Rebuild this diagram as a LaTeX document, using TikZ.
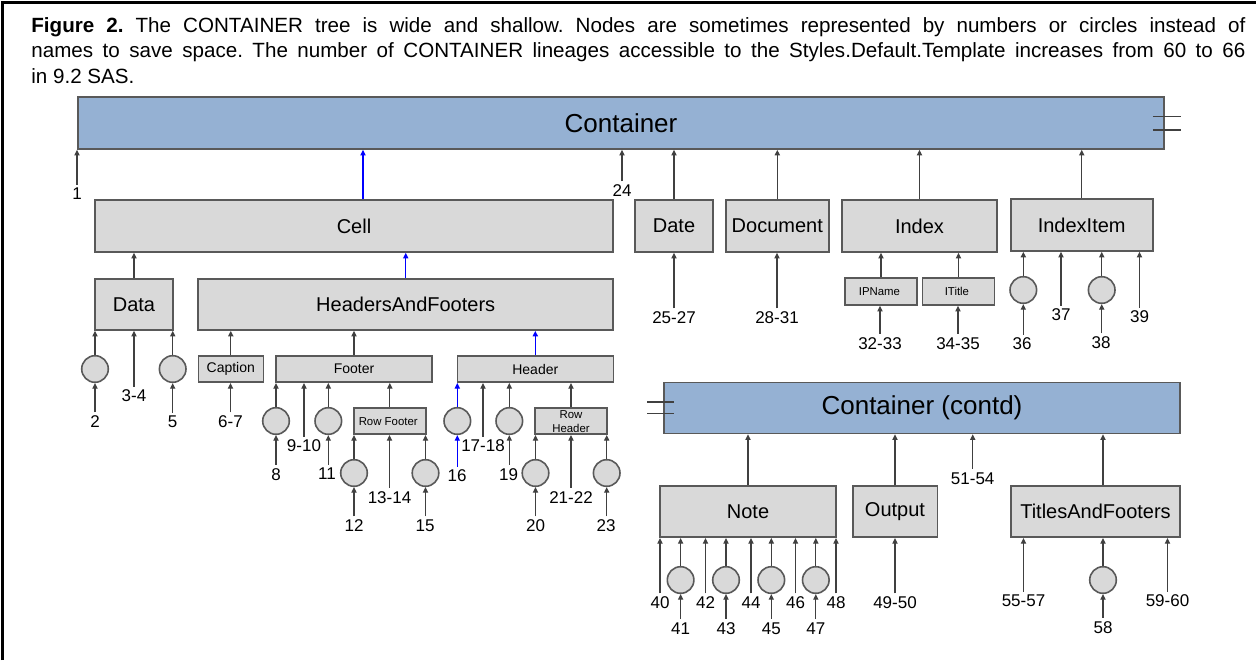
\documentclass[tikz,border=0pt]{standalone}
\usepackage{fontspec}
\setmainfont{Liberation Sans}
\usetikzlibrary{arrows.meta}

\definecolor{boxfill}{HTML}{D9D9D9}
\definecolor{boxline}{HTML}{595959}
\definecolor{contfill}{HTML}{95B1D3}
\definecolor{wirecol}{HTML}{404040}

\begin{document}
\frenchspacing
\begin{tikzpicture}[x=0.5pt, y=-0.5pt,
    box/.style={draw=boxline, fill=boxfill, line width=0.8pt, inner sep=0pt,
      font=\fontsize{10}{12}\selectfont},
    contbox/.style={box, fill=contfill, font=\fontsize{13}{15}\selectfont},
    smallbox/.style={box, font=\fontsize{7}{8}\selectfont},
    tinybox/.style={box, align=center, font=\fontsize{5.7}{7}\selectfont},
    leaf/.style={circle, draw=boxline, fill=boxfill, line width=0.8pt,
      inner sep=0pt, minimum size=13.3pt},
    num/.style={inner sep=1.5pt, font=\fontsize{8.5}{10}\selectfont},
    wire/.style={draw=wirecol, line width=0.6pt, -{Triangle[length=2.8pt, width=2.6pt]}},
    bluewire/.style={wire, draw=blue},
    brk/.style={draw=wirecol, line width=0.8pt}]

  \useasboundingbox (0, 0) rectangle (1256, 660);
  \draw[line width=1.5pt] (2.5, 660) -- (2.5, 2.5) -- (1256, 2.5);

  \node[anchor=north west, inner sep=0pt, text width=607pt, align=justify,
    font=\fontsize{10.3}{12.75}\selectfont] (title) at (31, 17){
    \textbf{Figure 2.} The CONTAINER tree is wide and shallow. Nodes are
    sometimes represented by numbers or circles instead of\linebreak names to
    save space. The number of CONTAINER lineages accessible to the
    Styles.Default.Template increases from 60 to 66\linebreak in 9.2 SAS.
  };

  %% first level
  \node[contbox, minimum width=543pt, minimum height=26pt] (cont) at (621, 123){
    Container
  };

  \node[box, minimum width=259pt, minimum height=26pt] (cell) at (354, 226){
    Cell
  };

  \node[box, minimum width=39pt, minimum height=26pt] (date) at (674, 226){
    Date
  };

  \node[box, minimum width=51.5pt, minimum height=26pt] (doc) at (777.3, 226){
    Document
  };

  \node[box, minimum width=77.5pt, minimum height=26pt] (index) at (919.5, 226){
    Index
  };

  \node[box, minimum width=71pt, minimum height=26pt] (item) at (1081.7, 225){
    IndexItem
  };

  \node[num] (l1) at (77, 194){1};
  \node[num] (l24) at (622, 190.6){24};

  %% second level
  \node[box, minimum width=39pt, minimum height=25.5pt] (data) at (134, 304.5){
    Data
  };

  \node[box, minimum width=207.5pt, minimum height=25.5pt] (haf) at (405.7, 304.5){
    HeadersAndFooters
  };

  \node[tinybox, minimum width=36pt, minimum height=13.5pt] (ipname) at (881, 291.5){
    IPName
  };

  \node[tinybox, minimum width=36pt, minimum height=13.5pt] (ititle) at (958.5, 291.5){
    ITitle
  };

  \node[leaf] (c36) at (1023.3, 290){};
  \node[leaf] (c38) at (1101.7, 290){};

  \node[num] (l2527) at (674, 317.7){25-27};
  \node[num] (l2831) at (777, 317.7){28-31};
  \node[num] (l3233) at (880, 343.3){32-33};
  \node[num] (l3435) at (958, 343.3){34-35};
  \node[num] (l36) at (1022, 344){36};
  \node[num] (l37) at (1061, 315){37};
  \node[num] (l38) at (1101, 342.7){38};
  \node[num] (l39) at (1139.5, 317){39};

  %% third level
  \node[leaf] (c2) at (95, 369){};
  \node[leaf] (c5) at (172.7, 369){};

  \node[smallbox, minimum width=32.5pt, minimum height=13pt] (caption) at (230.8, 369.2){
    Caption
  };

  \node[smallbox, minimum width=78pt, minimum height=13pt] (footer) at (354, 369.2){
    Footer
  };

  \node[smallbox, minimum width=78pt, minimum height=13pt] (header) at (535.3, 369.2){
    Header
  };

  \node[num] (l2) at (95, 421.7){2};
  \node[num] (l34) at (134, 396){3-4};
  \node[num] (l5) at (172.5, 422){5};
  \node[num] (l67) at (230.5, 421.7){6-7};

  %% fourth level
  \node[leaf] (c8) at (276, 421){};
  \node[leaf] (c11) at (328.3, 421){};

  \node[tinybox, minimum width=36pt, minimum height=13pt] (rowf) at (389.8, 421.2){
    Row Footer
  };

  \node[leaf] (c16) at (457.3, 421){};
  \node[leaf] (c19) at (509.3, 421){};

  \node[tinybox, minimum width=36pt, minimum height=13pt] (rowh) at (571, 421.2){
    Row\\Header
  };

  \node[num] (l8) at (276, 474.3){8};
  \node[num] (l910) at (304, 446){9-10};
  \node[num] (l11) at (327, 474){11};
  \node[num] (l16) at (457, 476){16};
  \node[num] (l1718) at (483, 446){17-18};
  \node[num] (l19) at (508.5, 474.3){19};

  %% fifth level
  \node[leaf] (c12) at (354, 473){};
  \node[leaf] (c15) at (425.5, 473){};
  \node[leaf] (c20) at (535.5, 473){};
  \node[leaf] (c23) at (606.7, 473){};

  \node[num] (l12) at (354, 525.7){12};
  \node[num] (l1314) at (389.5, 497.3){13-14};
  \node[num] (l15) at (425, 525.7){15};
  \node[num] (l20) at (535.5, 525.7){20};
  \node[num] (l2122) at (571, 497.3){21-22};
  \node[num] (l23) at (606, 525.7){23};

  %% continued part
  \node[contbox, minimum width=258pt, minimum height=25.5pt] (contd) at (922, 408){
    Container (contd)
  };

  \node[box, minimum width=88pt, minimum height=25.5pt] (note) at (748, 511.7){
    Note
  };

  \node[box, minimum width=42.3pt, minimum height=25.5pt] (output) at (895, 511.7){
    Output
  };

  \node[box, minimum width=84.5pt, minimum height=25.5pt] (taf) at (1095.5, 511.7){
    TitlesAndFooters
  };

  \node[num] (l5154) at (972.7, 478.3){51-54};

  \node[leaf] (c41) at (680.6, 580){};
  \node[leaf] (c43) at (726, 580){};
  \node[leaf] (c45) at (771.3, 580){};
  \node[leaf] (c47) at (815.8, 580){};
  \node[leaf] (c58) at (1103, 580){};

  \node[num] (l40) at (660, 602.7){40};
  \node[num] (l42) at (705.5, 602.7){42};
  \node[num] (l44) at (751, 602.7){44};
  \node[num] (l46) at (795.5, 602.7){46};
  \node[num] (l48) at (836, 602.7){48};
  \node[num] (l41) at (680.6, 628.3){41};
  \node[num] (l43) at (726, 628.3){43};
  \node[num] (l45) at (771.3, 628.3){45};
  \node[num] (l47) at (815.8, 628.3){47};
  \node[num] (l4950) at (895, 602.7){49-50};
  \node[num] (l5557) at (1023.5, 601){55-57};
  \node[num] (l58) at (1103, 627.3){58};
  \node[num] (l5960) at (1167.5, 601){59-60};

  %% break marks
  \draw[brk] ([shift={(-12, -6.5)}]cont.east) -- ([shift={(16, -6.5)}]cont.east);
  \draw[brk] ([shift={(-12, 7)}]cont.east) -- ([shift={(16, 7)}]cont.east);
  \draw[brk] ([shift={(-16, -6.3)}]contd.west) -- ([shift={(11, -6.3)}]contd.west);
  \draw[brk] ([shift={(-16, 5.3)}]contd.west) -- ([shift={(11, 5.3)}]contd.west);

  %% into Container
  \draw[wire] (l1.north) -- (l1.north |- cont.south);
  \draw[bluewire] ([shift={(9, 0)}]cell.north) -- ([shift={(9, 0)}]cell.north |- cont.south);
  \draw[wire] (l24.north) -- (l24.north |- cont.south);
  \draw[wire] (date.north) -- (date.north |- cont.south);
  \draw[wire] (doc.north) -- (doc.north |- cont.south);
  \draw[wire] (index.north) -- (index.north |- cont.south);
  \draw[wire] (item.north) -- (item.north |- cont.south);

  \draw[wire] (data.north) -- (data.north |- cell.south);
  \draw[bluewire] (haf.north) -- (haf.north |- cell.south);

  \draw[wire] (l2527.north) -- (l2527.north |- date.south);
  \draw[wire] (l2831.north) -- (l2831.north |- doc.south);

  \draw[wire] (ipname.north) -- (ipname.north |- index.south);
  \draw[wire] (ititle.north) -- (ititle.north |- index.south);
  \draw[wire] (l3233.north) -- (l3233.north |- ipname.south);
  \draw[wire] (l3435.north) -- (l3435.north |- ititle.south);

  \draw[wire] (c36.north) -- (c36.north |- item.south);
  \draw[wire] (l37.north) -- (l37.north |- item.south);
  \draw[wire] (c38.north) -- (c38.north |- item.south);
  \draw[wire] (l39.north) -- (l39.north |- item.south);
  \draw[wire] (c36.south |- l36.north) -- (c36.south);
  \draw[wire] (c38.south |- l38.north) -- (c38.south);

  %% Data
  \draw[wire] (c2.north) -- (c2.north |- data.south);
  \draw[wire] (l34.north) -- (l34.north |- data.south);
  \draw[wire] (c5.north) -- (c5.north |- data.south);
  \draw[wire] (c2.south |- l2.north) -- (c2.south);
  \draw[wire] (c5.south |- l5.north) -- (c5.south);

  %% HeadersAndFooters
  \draw[wire] (caption.north) -- (caption.north |- haf.south);
  \draw[wire] (footer.north) -- (footer.north |- haf.south);
  \draw[bluewire] (header.north) -- (header.north |- haf.south);
  \draw[wire] (l67.north) -- (l67.north |- caption.south);

  %% Footer
  \draw[wire] (c8.north) -- (c8.north |- footer.south);
  \draw[wire] (l910.north) -- (l910.north |- footer.south);
  \draw[wire] (c11.north) -- (c11.north |- footer.south);
  \draw[wire] (rowf.north) -- (rowf.north |- footer.south);
  \draw[wire] (c8.south |- l8.north) -- (c8.south);
  \draw[wire] (c11.south |- l11.north) -- (c11.south);

  \draw[wire] (c12.north) -- (c12.north |- rowf.south);
  \draw[wire] (l1314.north) -- (l1314.north |- rowf.south);
  \draw[wire] (c15.north) -- (c15.north |- rowf.south);
  \draw[wire] (c12.south |- l12.north) -- (c12.south);
  \draw[wire] (c15.south |- l15.north) -- (c15.south);

  %% Header
  \draw[bluewire] (c16.north) -- (c16.north |- header.south);
  \draw[wire] (l1718.north) -- (l1718.north |- header.south);
  \draw[wire] (c19.north) -- (c19.north |- header.south);
  \draw[wire] (rowh.north) -- (rowh.north |- header.south);
  \draw[bluewire] (c16.south |- l16.north) -- (c16.south);
  \draw[wire] (c19.south |- l19.north) -- (c19.south);

  \draw[wire] (c20.north) -- (c20.north |- rowh.south);
  \draw[wire] (l2122.north) -- (l2122.north |- rowh.south);
  \draw[wire] (c23.north) -- (c23.north |- rowh.south);
  \draw[wire] (c20.south |- l20.north) -- (c20.south);
  \draw[wire] (c23.south |- l23.north) -- (c23.south);

  %% Container (contd)
  \draw[wire] (note.north) -- (note.north |- contd.south);
  \draw[wire] (output.north) -- (output.north |- contd.south);
  \draw[wire] (l5154.north) -- (l5154.north |- contd.south);
  \draw[wire] (c58.north |- taf.north) -- (c58.north |- contd.south);

  \draw[wire] (l40.north) -- (l40.north |- note.south);
  \draw[wire] (c41.north) -- (c41.north |- note.south);
  \draw[wire] (l42.north) -- (l42.north |- note.south);
  \draw[wire] (c43.north) -- (c43.north |- note.south);
  \draw[wire] (l44.north) -- (l44.north |- note.south);
  \draw[wire] (c45.north) -- (c45.north |- note.south);
  \draw[wire] (l46.north) -- (l46.north |- note.south);
  \draw[wire] (c47.north) -- (c47.north |- note.south);
  \draw[wire] (l48.north) -- (l48.north |- note.south);
  \draw[wire] (c41.south |- l41.north) -- (c41.south);
  \draw[wire] (c43.south |- l43.north) -- (c43.south);
  \draw[wire] (c45.south |- l45.north) -- (c45.south);
  \draw[wire] (c47.south |- l47.north) -- (c47.south);

  \draw[wire] (l4950.north) -- (l4950.north |- output.south);

  \draw[wire] (l5557.north) -- (l5557.north |- taf.south);
  \draw[wire] (c58.north) -- (c58.north |- taf.south);
  \draw[wire] (l5960.north) -- (l5960.north |- taf.south);
  \draw[wire] (c58.south |- l58.north) -- (c58.south);
\end{tikzpicture}
\end{document}
